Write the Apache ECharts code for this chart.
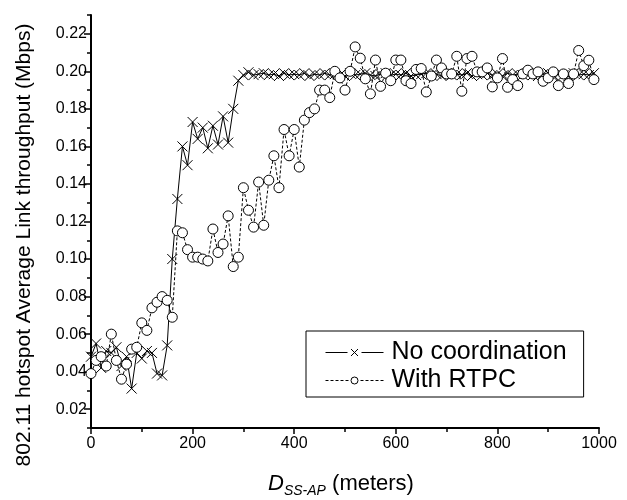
<!DOCTYPE html>
<html>
<head>
<meta charset="utf-8">
<script src="https://cdn.jsdelivr.net/npm/echarts@6/dist/echarts.min.js"></script>
<style>html,body{margin:0;padding:0;background:#fff}#c{width:627px;height:500px}</style>
</head>
<body>
<div id="c"></div>
<script>
// ---- data ----
const distances = [0,10,20,30,40,50,60,70,80,90,100,110,120,130,140,150,160,170,180,190,
200,210,220,230,240,250,260,270,280,290,300,310,320,330,340,350,360,370,380,390,
400,410,420,430,440,450,460,470,480,490,500,510,520,530,540,550,560,570,580,590,
600,610,620,630,640,650,660,670,680,690,700,710,720,730,740,750,760,770,780,790,
800,810,820,830,840,850,860,870,880,890,900,910,920,930,940,950,960,970,980,990];

const noCoordination = [0.048,0.055,0.042,0.051,0.050,0.053,0.043,0.048,0.031,0.050,
0.047,0.051,0.050,0.039,0.038,0.054,0.100,0.132,0.160,0.150,
0.173,0.164,0.170,0.159,0.171,0.161,0.176,0.162,0.180,0.195,
0.198,0.1995,0.198,0.1985,0.199,0.198,0.1985,0.1975,0.199,0.198,
0.1985,0.198,0.199,0.1975,0.1985,0.198,0.199,0.198,0.1985,0.198,
0.1975,0.199,0.198,0.1985,0.199,0.198,0.1975,0.1985,0.199,0.198,
0.1985,0.198,0.199,0.1975,0.198,0.1985,0.199,0.198,0.1985,0.1975,
0.199,0.198,0.1985,0.198,0.199,0.1975,0.1985,0.198,0.199,0.198,
0.1985,0.1975,0.199,0.198,0.1985,0.198,0.199,0.198,0.1975,0.1985,
0.199,0.198,0.1985,0.198,0.1975,0.199,0.198,0.1985,0.198,0.199];

const withRTPC = [0.039,0.046,0.048,0.043,0.060,0.046,0.036,0.044,0.052,0.053,
0.066,0.062,0.074,0.077,0.080,0.078,0.069,0.115,0.114,0.105,
0.101,0.101,0.100,0.099,0.116,0.1035,0.108,0.123,0.096,0.101,
0.138,0.126,0.117,0.141,0.118,0.142,0.155,0.138,0.169,0.155,
0.169,0.149,0.174,0.178,0.180,0.190,0.190,0.186,0.200,0.1965,
0.190,0.200,0.213,0.207,0.196,0.188,0.206,0.192,0.199,0.195,
0.206,0.206,0.195,0.1935,0.201,0.2015,0.189,0.1975,0.206,0.2018,
0.1986,0.1986,0.208,0.1894,0.2068,0.208,0.1997,0.1997,0.2018,0.1917,
0.1965,0.2068,0.1915,0.1956,0.1924,0.1986,0.2006,0.1986,0.1997,0.1947,
0.1965,0.1997,0.1924,0.1986,0.1935,0.1986,0.2111,0.203,0.2059,0.1956];

const seriesNames = ['No coordination', 'With RTPC'];
const yMajorTicks = [0.02,0.04,0.06,0.08,0.10,0.12,0.14,0.16,0.18,0.20,0.22];
const yMinorTicks = [0.01,0.03,0.05,0.07,0.09,0.11,0.13,0.15,0.17,0.19,0.21,0.23];
const xTitle = ['D', 'SS-AP', ' (meters)'];
const yTitle = '802.11 hotspot Average Link throughput (Mbps)';

// ---- chart ----
const FONT = '"Liberation Sans", Arial, sans-serif';
const chart = echarts.init(document.getElementById('c'), null, {renderer: 'canvas'});
const pairs = vals => distances.map((d, i) => [d, vals[i]]);

const iconCross = 'path://M0,5L22,5M36,5L58,5M25.5,1.5L32.5,8.5M32.5,1.5L25.5,8.5';
const iconCircle = 'path://M0,5L3,5M5,5L8,5M10,5L13,5M15,5L18,5M20,5L23,5M25.5,5A3.5,3.5,0,1,1,32.5,5A3.5,3.5,0,1,1,25.5,5M35,5L38,5M40,5L43,5M45,5L48,5M50,5L53,5M55,5L58,5';

chart.setOption({
  animation: false,
  backgroundColor: '#fff',
  textStyle: {fontFamily: FONT, color: '#000'},
  grid: {left: 91, right: 28, top: 15, bottom: 72},
  xAxis: {
    type: 'value', min: 0, max: 1000, interval: 200,
    axisLine: {show: true, lineStyle: {color: '#000', width: 2}},
    axisTick: {show: true, length: 6, lineStyle: {color: '#000', width: 1.5}},
    minorTick: {show: true, splitNumber: 2, length: 4, lineStyle: {color: '#000', width: 1.5}},
    axisLabel: {fontSize: 16, color: '#000', fontFamily: FONT, margin: 8, formatter: v => String(v)},
    splitLine: {show: false}
  },
  yAxis: [{
    type: 'value', min: 0.01, max: 0.23, position: 'left',
    axisLine: {show: true, onZero: false, lineStyle: {color: '#000', width: 2}},
    axisTick: {show: true, length: 7, customValues: yMajorTicks, lineStyle: {color: '#000', width: 1.5}},
    axisLabel: {customValues: yMajorTicks, formatter: v => v.toFixed(2), fontSize: 16, color: '#000', fontFamily: FONT, margin: 4},
    splitLine: {show: false}
  }, {
    type: 'value', min: 0.01, max: 0.23, position: 'left',
    axisLine: {show: false},
    axisTick: {show: true, length: 4, customValues: yMinorTicks, lineStyle: {color: '#000', width: 1.5}},
    axisLabel: {show: false},
    splitLine: {show: false}
  }],
  legend: {
    orient: 'vertical', left: 306, top: 331,
    padding: [9, 17, 4, 19], itemGap: 3,
    itemWidth: 58, itemHeight: 10, symbolKeepAspect: true,
    borderColor: '#000', borderWidth: 1,
    textStyle: {fontSize: 25, color: '#000', fontFamily: FONT, padding: [0, 0, 0, 3]},
    data: [
      {name: seriesNames[0], icon: iconCross, itemStyle: {color: '#000', borderColor: '#000', borderWidth: 1}},
      {name: seriesNames[1], icon: iconCircle, itemStyle: {color: '#fff', borderColor: '#000', borderWidth: 1}}
    ]
  },
  graphic: [{
    type: 'text', x: 24, y: 245, rotation: Math.PI / 2,
    style: {text: yTitle, fontSize: 21, fontFamily: FONT, fill: '#000', align: 'center', verticalAlign: 'middle'}
  }, {
    type: 'text', x: 341, y: 484,
    style: {
      text: '{d|' + xTitle[0] + '}{s|' + xTitle[1] + '}{m|' + xTitle[2] + '}',
      align: 'center', verticalAlign: 'middle', fill: '#000',
      rich: {
        d: {fontSize: 22, fontStyle: 'italic', fontFamily: FONT, fill: '#000'},
        s: {fontSize: 14, fontStyle: 'italic', fontFamily: FONT, fill: '#000', padding: [14, 0, 0, 0]},
        m: {fontSize: 22, fontFamily: FONT, fill: '#000'}
      }
    }
  }],
  series: [{
    name: seriesNames[0], type: 'line', data: pairs(noCoordination),
    symbol: 'path://M0,0L10,10M10,0L0,10', symbolSize: 10,
    itemStyle: {color: '#000', borderColor: '#000', borderWidth: 1},
    lineStyle: {color: '#000', width: 1, type: 'solid'},
    emphasis: {disabled: true}
  }, {
    name: seriesNames[1], type: 'line', data: pairs(withRTPC),
    symbol: 'circle', symbolSize: 10,
    itemStyle: {color: '#fff', borderColor: '#000', borderWidth: 1},
    lineStyle: {color: '#000', width: 1, type: [3, 2]},
    emphasis: {disabled: true}
  }]
});
</script>
</body>
</html>
